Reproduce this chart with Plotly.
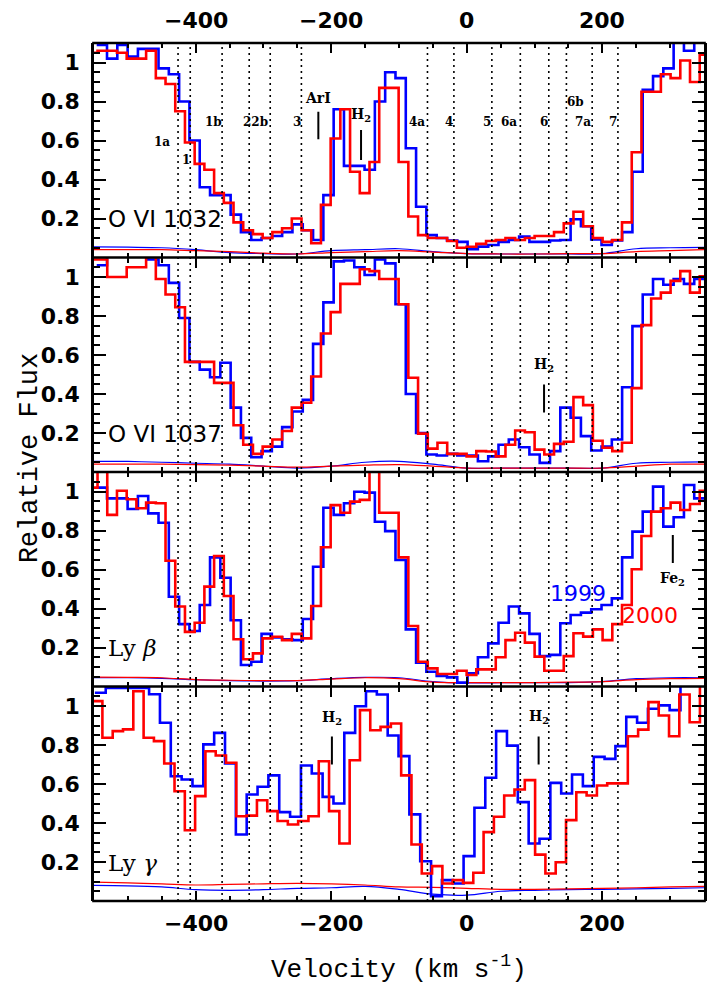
import numpy as np
import plotly.graph_objects as go
from plotly.subplots import make_subplots

# ---------------------------------------------------------------------------
# Velocity binning of each spectrum: (start of first bin, bin width) in km/s
# ---------------------------------------------------------------------------
grid_1999 = [(-546.0, 15.2), (-546.0, 15.2), (-546.0, 15.2), (-548.7, 16.0)]
grid_2000 = [(-559.1, 14.33), (-559.1, 14.33), (-559.1, 14.33), (-552.8, 15.2)]

panel_names = ["O VI 1032", "O VI 1037", "Ly <i>β</i>", "Ly <i>γ</i>"]

# velocity tick labels (top and bottom) and flux tick labels
x_tick_vals = [-400, -200, 0, 200]
x_tick_text = ["\u2212400", "\u2212200", "0", "200"]
y_tick_vals = [0.2, 0.4, 0.6, 0.8, 1.0]
y_tick_text = ["0.2", "0.4", "0.6", "0.8", "1"]

# ---------------------------------------------------------------------------
# Relative flux per velocity bin: 1999 (blue) and 2000 (red)
# ---------------------------------------------------------------------------
ovi1032_1999 = [1.09, 1.02, 1.09, 1.03, 1.07, 1.07, 0.97, 0.94, 0.80, 0.60,
                0.36, 0.32, 0.32, 0.22, 0.13, 0.09, 0.10, 0.11, 0.13, 0.17,
                0.14, 0.09, 0.32, 0.76, 0.47, 0.47, 0.45, 0.80, 0.95, 0.92,
                0.56, 0.26, 0.115, 0.10, 0.087, 0.08, 0.043, 0.056, 0.064, 0.08,
                0.09, 0.107, 0.08, 0.08, 0.087, 0.09, 0.196, 0.16, 0.093, 0.064,
                0.087, 0.13, 0.44, 0.86, 0.93, 0.97, 1.12, 1.06, 1.12]
ovi1032_2000 = [1.05, 1.06, 1.06, 1.05, 1.02, 1.02, 1.06, 0.92, 0.89, 0.75,
                0.59, 0.48, 0.45, 0.33, 0.28, 0.18, 0.14, 0.12, 0.10, 0.13,
                0.15, 0.20, 0.14, 0.073, 0.27, 0.61, 0.76, 0.44, 0.33, 0.49,
                0.87, 0.87, 0.49, 0.21, 0.115, 0.10, 0.10, 0.085, 0.05, 0.055,
                0.07, 0.085, 0.09, 0.10, 0.09, 0.10, 0.11, 0.11, 0.13, 0.175,
                0.235, 0.16, 0.10, 0.08, 0.09, 0.18, 0.54, 0.85, 0.85, 0.94,
                0.92, 1.01, 0.90, 1.04]

ovi1037_1999 = [1.06, 1.12, 1.12, 1.12, 1.12, 1.09, 1.06, 0.97, 0.79, 0.565,
                0.525, 0.486, 0.56, 0.33, 0.175, 0.076, 0.107, 0.13, 0.23, 0.31,
                0.37, 0.657, 0.87, 1.08, 1.085, 1.05, 1.01, 1.09, 1.07, 0.86,
                0.40, 0.20, 0.09, 0.085, 0.093, 0.085, 0.085, 0.055, 0.08, 0.14,
                0.167, 0.127, 0.09, 0.047, 0.107, 0.33, 0.278, 0.184, 0.11, 0.13,
                0.167, 0.435, 0.748, 0.91, 0.99, 0.96, 0.99, 0.965, 0.99]
ovi1037_2000 = [1.09, 1.09, 1.0, 1.0, 1.05, 1.05, 1.12, 0.99, 0.91, 0.845,
                0.565, 0.565, 0.565, 0.457, 0.457, 0.24, 0.14, 0.093, 0.13, 0.167,
                0.21, 0.33, 0.355, 0.49, 0.71, 0.82, 0.965, 0.965, 1.04, 1.03,
                0.99, 0.99, 0.86, 0.483, 0.197, 0.12, 0.15, 0.093, 0.093, 0.08,
                0.107, 0.105, 0.08, 0.14, 0.213, 0.204, 0.115, 0.09, 0.144, 0.155,
                0.384, 0.343, 0.16, 0.124, 0.107, 0.15, 0.43, 0.753, 0.89, 0.92,
                0.98, 1.03, 0.92, 1.004]

lyb_1999 = [1.02, 0.965, 0.965, 0.91, 0.977, 0.888, 0.84, 0.46, 0.32, 0.285,
            0.418, 0.662, 0.558, 0.34, 0.11, 0.127, 0.27, 0.252, 0.242, 0.238,
            0.346, 0.614, 0.917, 0.88, 0.94, 0.999, 0.994, 0.845, 0.797, 0.649,
            0.293, 0.122, 0.076, 0.054, 0.047, 0.02, 0.068, 0.15, 0.221, 0.327,
            0.41, 0.375, 0.27, 0.156, 0.162, 0.324, 0.367, 0.379, 0.396, 0.418,
            0.452, 0.662, 0.794, 0.897, 1.025, 0.82, 0.868, 1.033, 0.965]
lyb_2000 = [1.02, 1.15, 0.88, 1.004, 0.96, 0.914, 0.943, 0.94, 0.645, 0.41,
            0.28, 0.327, 0.512, 0.669, 0.464, 0.242, 0.14, 0.17, 0.247, 0.255,
            0.238, 0.27, 0.247, 0.413, 0.714, 0.93, 0.891, 0.948, 0.957, 1.15,
            0.891, 0.891, 0.662, 0.31, 0.127, 0.093, 0.064, 0.064, 0.081, 0.059,
            0.088, 0.088, 0.15, 0.238, 0.276, 0.225, 0.153, 0.081, 0.081, 0.156,
            0.273, 0.256, 0.293, 0.238, 0.32, 0.418, 0.601, 0.772, 0.897, 0.914,
            0.943, 0.905, 0.936, 1.004]

lyg_1999 = [1.068, 1.093, 1.093, 1.093, 1.093, 1.06, 0.914, 0.64, 0.623, 0.589,
            0.803, 0.862, 0.705, 0.341, 0.546, 0.586, 0.644, 0.456, 0.432, 0.695,
            0.654, 0.534, 0.5, 0.862, 0.999, 1.076, 1.059, 0.849, 0.743, 0.444,
            0.204, 0.025, 0.107, 0.09, 0.23, 0.478, 0.632, 0.871, 0.797, 0.507,
            0.295, 0.319, 0.606, 0.551, 0.649, 0.589, 0.739, 0.729, 0.794, 0.944,
            0.914, 0.986, 1.003, 0.979, 1.15, 1.15, 1.15]
lyg_2000 = [1.025, 0.837, 0.871, 0.88, 1.076, 0.837, 0.82, 0.705, 0.563, 0.363,
            0.538, 0.768, 0.746, 0.709, 0.435, 0.438, 0.517, 0.461, 0.41, 0.392,
            0.41, 0.435, 0.717, 0.461, 0.295, 0.722, 0.979, 0.876, 0.893, 0.91,
            0.644, 0.29, 0.141, 0.179, 0.09, 0.107, 0.093, 0.145, 0.353, 0.432,
            0.541, 0.572, 0.62, 0.238, 0.141, 0.199, 0.415, 0.558, 0.541, 0.592,
            0.603, 0.603, 0.845, 0.879, 1.02, 0.951, 0.845, 1.059, 0.917, 1.15,
            1.033]

flux_1999 = [ovi1032_1999, ovi1037_1999, lyb_1999, lyg_1999]
flux_2000 = [ovi1032_2000, ovi1037_2000, lyb_2000, lyg_2000]

# ---------------------------------------------------------------------------
# 1-sigma error spectra, sampled every 50 km/s
# ---------------------------------------------------------------------------
v_err = [-550, -500, -450, -400, -350, -300, -250, -200, -150, -100,
         -50, 0, 50, 100, 150, 200, 250, 300, 350]
err_1999 = [
    [0.055, 0.053, 0.05, 0.04, 0.025, 0.02, 0.018, 0.035, 0.04, 0.045,
     0.03, 0.02, 0.018, 0.018, 0.018, 0.02, 0.045, 0.05, 0.052],
    [0.055, 0.054, 0.05, 0.045, 0.04, 0.03, 0.02, 0.03, 0.05, 0.055,
     0.04, 0.02, 0.02, 0.02, 0.02, 0.02, 0.045, 0.05, 0.052],
    [0.045, 0.045, 0.042, 0.035, 0.03, 0.028, 0.03, 0.04, 0.047, 0.045,
     0.025, 0.018, 0.02, 0.02, 0.02, 0.025, 0.04, 0.045, 0.045],
    [0.08, 0.078, 0.072, 0.058, 0.055, 0.058, 0.065, 0.068, 0.075, 0.06,
     0.035, 0.03, 0.05, 0.055, 0.058, 0.06, 0.062, 0.065, 0.068],
]
err_2000 = [
    [0.04, 0.04, 0.04, 0.035, 0.03, 0.022, 0.018, 0.025, 0.03, 0.035,
     0.028, 0.02, 0.018, 0.018, 0.02, 0.02, 0.03, 0.035, 0.04],
    [0.04, 0.04, 0.04, 0.038, 0.035, 0.03, 0.025, 0.03, 0.035, 0.038,
     0.03, 0.02, 0.02, 0.02, 0.02, 0.02, 0.03, 0.04, 0.04],
    [0.048, 0.047, 0.045, 0.035, 0.032, 0.03, 0.03, 0.038, 0.045, 0.04,
     0.022, 0.02, 0.02, 0.02, 0.022, 0.025, 0.035, 0.04, 0.042],
    [0.097, 0.093, 0.088, 0.082, 0.085, 0.088, 0.09, 0.088, 0.082, 0.072,
     0.07, 0.065, 0.06, 0.06, 0.062, 0.065, 0.068, 0.072, 0.075],
]

# ---------------------------------------------------------------------------
# Absorption components (dotted lines) and their labels in the top panel
# ---------------------------------------------------------------------------
component_v = [-426, -408, -361, -321, -290, -244, -58, -19, 37, 79, 121, 147, 185, 223]
component_labels = ["1a", "1", "1b", "22b", "3", "4a", "4", "5", "6a", "6", "6b", "7a", "7"]
component_label_v = [-450, -414, -374, -312, -250, -74, -26, 30, 63, 114, 160, 171, 216]
component_label_y = [0.594, 0.50, 0.696, 0.696, 0.696, 0.696, 0.696, 0.696, 0.696,
                     0.696, 0.80, 0.696, 0.696]

# Contaminating lines: (panel, label, velocity, label flux, tick bottom, tick top)
contaminants = [
    (0, "ArI", -219, 0.816, 0.606, 0.748),
    (0, "H<sub>2</sub>", -156, 0.73, 0.50, 0.654),
    (1, "H<sub>2</sub>", 114, 0.551, 0.305, 0.449),
    (2, "Fe<sub>2</sub>", 304, 0.551, 0.633, 0.777),
    (3, "H<sub>2</sub>", -199, 0.941, 0.70, 0.844),
    (3, "H<sub>2</sub>", 106, 0.946, 0.70, 0.844),
]

BLUE = "rgb(0,0,255)"
RED = "rgb(255,0,0)"
V_RANGE = [-550, 350]
FRAME_W = 2.6


def step_xy(grid, values):
    start, width = grid
    edges = start + width * np.arange(len(values) + 1)
    return edges, list(values) + [values[-1]]


fig = make_subplots(rows=4, cols=1, shared_xaxes=True, vertical_spacing=0)

for i in range(4):
    row = i + 1
    for err, color in ((err_1999[i], BLUE), (err_2000[i], RED)):
        fig.add_trace(go.Scatter(x=v_err, y=err, mode="lines",
                                 line=dict(color=color, width=1.2, shape="spline"),
                                 showlegend=False, hoverinfo="skip"), row=row, col=1)
    for grid, flux, color in ((grid_1999[i], flux_1999[i], BLUE),
                              (grid_2000[i], flux_2000[i], RED)):
        x, y = step_xy(grid, flux)
        fig.add_trace(go.Scatter(x=x, y=y, mode="lines",
                                 line=dict(color=color, width=2.6, shape="hv"),
                                 showlegend=False, hoverinfo="skip"), row=row, col=1)

tick_font = dict(family="DejaVu Sans", size=22, color="black", weight="bold")

# x axes: ticks on both edges of every panel; the frame is drawn as shapes so
# neighbouring panels share one border line. Velocity labels are annotations.
fig.update_xaxes(range=V_RANGE, tickmode="array", tickvals=x_tick_vals,
                 ticks="inside", ticklen=10, tickwidth=2, tickcolor="black",
                 minor=dict(dtick=50, tick0=0, ticks="inside", ticklen=5,
                            tickwidth=2, tickcolor="black"),
                 showline=False, mirror="allticks", showticklabels=False,
                 showgrid=False, zeroline=False)

fig.update_yaxes(range=[0, 1.1], tickmode="array",
                 tickvals=y_tick_vals, ticktext=y_tick_text,
                 ticks="inside", ticklen=12, tickwidth=2, tickcolor="black",
                 minor=dict(dtick=0.05, tick0=0, ticks="inside", ticklen=6,
                            tickwidth=2, tickcolor="black"),
                 showline=True, linewidth=FRAME_W, linecolor="black", mirror="allticks",
                 showgrid=False, zeroline=False, tickfont=tick_font,
                 ticklabelstandoff=7)

shapes = []
for v in component_v:
    shapes.append(dict(type="line", xref="x", yref="paper", x0=v, x1=v, y0=0, y1=1,
                       line=dict(color="black", width=1.6, dash="2px,4px"), layer="above"))

# horizontal frame lines: outer top/bottom and the panel boundaries
for yb in (0.0, 0.25, 0.5, 0.75, 1.0):
    shapes.append(dict(type="line", xref="paper", yref="paper", x0=-0.003, x1=1.003,
                       y0=yb, y1=yb, line=dict(color="black", width=FRAME_W),
                       layer="above"))

annotations = []
yref_of = ["y", "y2", "y3", "y4"]
xref_of = ["x", "x2", "x3", "x4"]

# velocity tick labels above the top panel and below the bottom panel
for v, txt in zip(x_tick_vals, x_tick_text):
    for ypos in (1.0268, -0.0268):
        annotations.append(dict(text=txt, x=v, y=ypos, xref="x4", yref="paper",
                                showarrow=False, xanchor="center", yanchor="middle",
                                font=tick_font))

for lab, v, yv in zip(component_labels, component_label_v, component_label_y):
    annotations.append(dict(text=lab, x=v, y=yv, xref="x", yref="y", showarrow=False,
                            font=dict(family="DejaVu Serif", size=12, color="black",
                                      weight="bold")))

for panel, lab, v, ylab, y0, y1 in contaminants:
    annotations.append(dict(text=lab, x=v, y=ylab, xref=xref_of[panel], yref=yref_of[panel],
                            showarrow=False,
                            font=dict(family="DejaVu Serif", size=14, color="black",
                                      weight="bold")))
    shapes.append(dict(type="line", xref=xref_of[panel], yref=yref_of[panel],
                       x0=v, x1=v, y0=y0, y1=y1, line=dict(color="black", width=2)))

for i, name in enumerate(panel_names):
    fam = "DejaVu Sans" if name.startswith("O") else "DejaVu Serif"
    annotations.append(dict(text=name, x=-532, y=0.195, xref=xref_of[i], yref=yref_of[i],
                            xanchor="left", yanchor="middle", showarrow=False,
                            font=dict(family=fam, size=23, color="black")))

annotations.append(dict(text="1999", x=164, y=0.479, xref="x3", yref="y3", showarrow=False,
                        font=dict(family="DejaVu Sans", size=22, color=BLUE)))
annotations.append(dict(text="2000", x=270, y=0.362, xref="x3", yref="y3", showarrow=False,
                        font=dict(family="DejaVu Sans", size=22, color=RED)))

annotations.append(dict(text="Velocity (km s<sup>-1</sup>)", x=0.5, y=-0.078,
                        xref="paper", yref="paper", showarrow=False,
                        xanchor="center", yanchor="middle",
                        font=dict(family="Liberation Mono", size=26, color="black")))
annotations.append(dict(text="Relative Flux", x=-0.105, y=0.517,
                        xref="paper", yref="paper", showarrow=False, textangle=-90,
                        xanchor="center", yanchor="middle",
                        font=dict(family="Liberation Mono", size=27, color="black")))

fig.update_layout(width=718, height=985,
                  margin=dict(l=94, r=14, t=43, b=84),
                  paper_bgcolor="white", plot_bgcolor="white",
                  shapes=shapes, annotations=annotations, showlegend=False)

fig.write_html("out.html")
